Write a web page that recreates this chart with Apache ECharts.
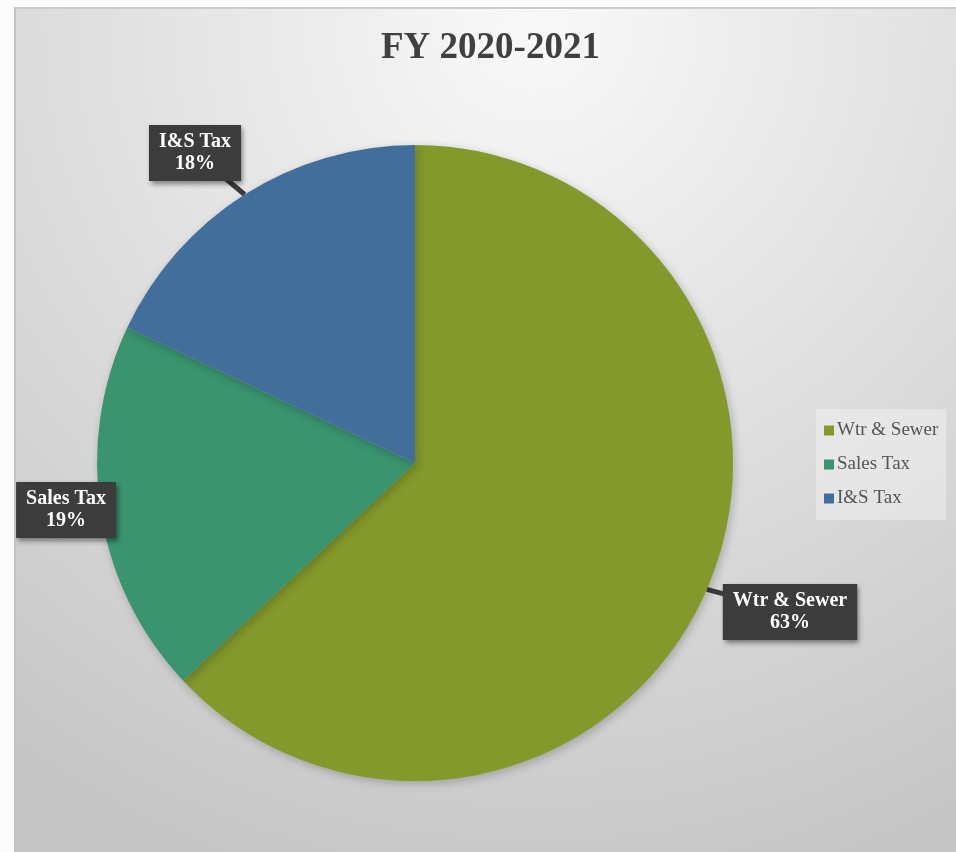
<!DOCTYPE html>
<html>
<head>
<meta charset="utf-8">
<script src="https://cdn.jsdelivr.net/npm/echarts@6/dist/echarts.min.js"></script>
<style>
  html, body { margin: 0; padding: 0; background: #fbfbfb; width: 956px; height: 852px; overflow: hidden; }
  #chart { position: absolute; left: 14px; top: 7px; width: 942px; height: 845px;
           border-top: 2px solid #cdcdcd; border-left: 2px solid #c4c4c4; box-sizing: border-box; }
</style>
</head>
<body>
<div id="chart"></div>
<script>
// Revenue sources for the fiscal year, in percent
const categories = ['Wtr & Sewer', 'Sales Tax', 'I&S Tax'];
const shares = [63, 19, 18];
const sliceColors = ['#84992b', '#3a946f', '#426e9b'];

// Where each callout box sits (chart pixels)
const calloutCenters = [[774, 603], [50, 501], [179, 144]];

const chart = echarts.init(document.getElementById('chart'), null, { renderer: 'canvas' });

const serif = '"Liberation Serif", "DejaVu Serif", serif';

chart.setOption({
  backgroundColor: {
    type: 'radial', x: 0.55, y: 0.02, r: 1.05,
    colorStops: [
      { offset: 0, color: '#f9f9f9' },
      { offset: 1, color: '#c6c6c6' }
    ]
  },
  title: {
    text: 'FY 2020-2021',
    left: 360,
    top: 16,
    textStyle: { fontFamily: serif, fontWeight: 'bold', fontSize: 37, color: '#404040' }
  },
  legend: {
    orient: 'vertical',
    left: 800,
    top: 400,
    icon: 'rect',
    itemWidth: 10,
    itemHeight: 10,
    itemGap: 15,
    padding: [12, 8, 12, 8],
    backgroundColor: 'rgba(240,240,240,0.55)',
    data: categories,
    textStyle: { fontFamily: serif, fontSize: 19, color: '#555555', padding: [0, 0, 0, -2] }
  },
  series: [{
    type: 'pie',
    center: [399, 454],
    radius: 318,
    startAngle: 90,
    clockwise: true,
    avoidLabelOverlap: false,
    itemStyle: {
      borderWidth: 0,
      shadowBlur: 10,
      shadowOffsetX: 2,
      shadowOffsetY: 3,
      shadowColor: 'rgba(0,0,0,0.22)'
    },
    label: {
      show: true,
      position: 'outside',
      formatter: '{b}\n{d}%',
      fontFamily: serif,
      fontWeight: 'bold',
      fontSize: 20,
      lineHeight: 22,
      color: '#ffffff',
      align: 'center',
      backgroundColor: '#3c3c3c',
      padding: [6, 10, 6, 10],
      shadowBlur: 5,
      shadowOffsetX: 2,
      shadowOffsetY: 3,
      shadowColor: 'rgba(0,0,0,0.45)'
    },
    labelLine: {
      show: true,
      length: 10,
      length2: 10,
      lineStyle: { color: '#3c3c3c', width: 5 }
    },
    labelLayout: function (params) {
      const c = calloutCenters[params.dataIndex];
      const tip = params.labelLinePoints ? params.labelLinePoints[0] : c;
      const mid = [(tip[0] + c[0]) / 2, (tip[1] + c[1]) / 2];
      return {
        x: c[0],
        y: c[1],
        align: 'center',
        verticalAlign: 'middle',
        labelLinePoints: [tip, mid, c]
      };
    },
    emphasis: { disabled: true },
    animation: false,
    data: categories.map((name, i) => ({
      name: name,
      value: shares[i],
      itemStyle: { color: sliceColors[i] }
    }))
  }]
});
</script>
</body>
</html>
